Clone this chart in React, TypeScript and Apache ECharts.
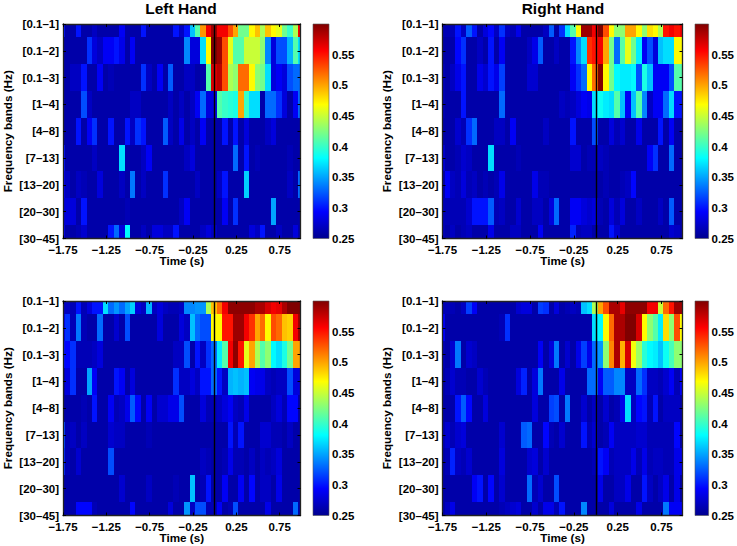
import React, { useEffect, useRef } from "react";
import * as echarts from "echarts";

const frequencyBands = ["[0.1–1]", "[0.1–2]", "[0.1–3]", "[1–4]", "[4–8]", "[7–13]", "[13–20]", "[20–30]", "[30–45]"];
const timeTicks = [-1.75, -1.25, -0.75, -0.25, 0.25, 0.75];
const panelTitles = ["Left Hand", "Right Hand", "", ""];

const leftTop = [
  [.30,.26,.26,.30,.26,.26,.27,.26,.26,.26,.26,.29,.26,.26,.26,.30,.26,.26,.26,.26,.26,.30,.27,.30,.36,.41,.505,.56,.59,.56,.56,.53,.50,.42,.42,.47,.49,.44,.49,.47,.46,.42,.40,.44,.56],
  [.26,.26,.26,.26,.26,.31,.28,.27,.29,.29,.30,.285,.26,.29,.26,.26,.26,.26,.26,.26,.26,.26,.26,.34,.28,.28,.37,.47,.60,.59,.53,.46,.41,.41,.45,.45,.45,.43,.34,.28,.32,.32,.355,.41,.37],
  [.26,.26,.27,.27,.30,.26,.26,.29,.26,.265,.26,.26,.26,.26,.26,.31,.27,.26,.29,.26,.325,.26,.26,.27,.27,.26,.26,.41,.57,.58,.53,.44,.43,.52,.52,.47,.43,.42,.37,.28,.29,.28,.32,.33,.33],
  [.26,.26,.26,.26,.32,.27,.26,.26,.26,.26,.26,.26,.26,.27,.27,.26,.26,.26,.26,.26,.27,.26,.27,.26,.27,.29,.33,.28,.28,.41,.40,.395,.39,.50,.40,.37,.37,.26,.33,.33,.31,.28,.26,.29,.33],
  [.26,.26,.26,.30,.26,.29,.31,.26,.26,.30,.26,.26,.30,.27,.31,.30,.26,.26,.26,.325,.27,.26,.285,.26,.27,.26,.29,.26,.26,.26,.30,.26,.30,.26,.28,.26,.26,.26,.27,.28,.26,.26,.26,.26,.26],
  [.30,.26,.26,.26,.26,.26,.27,.26,.26,.26,.26,.37,.26,.26,.26,.27,.29,.26,.26,.26,.26,.26,.26,.27,.28,.26,.26,.26,.26,.26,.26,.26,.33,.26,.30,.26,.265,.26,.26,.26,.26,.26,.265,.26,.26],
  [.29,.27,.26,.27,.265,.26,.26,.28,.26,.26,.26,.27,.26,.335,.26,.27,.26,.26,.26,.31,.26,.26,.26,.26,.26,.27,.26,.26,.26,.27,.30,.26,.26,.26,.365,.26,.26,.26,.26,.26,.26,.26,.27,.26,.33],
  [.28,.28,.28,.26,.30,.26,.26,.26,.26,.26,.26,.26,.265,.26,.26,.26,.26,.26,.26,.26,.26,.26,.27,.29,.26,.26,.26,.26,.26,.26,.29,.26,.31,.26,.26,.26,.26,.26,.26,.35,.26,.26,.26,.26,.26],
  [.29,.26,.26,.265,.275,.26,.26,.26,.26,.30,.33,.28,.38,.26,.26,.27,.26,.28,.28,.27,.27,.30,.26,.26,.26,.26,.27,.28,.27,.26,.26,.26,.26,.26,.26,.28,.27,.30,.26,.26,.27,.26,.26,.28,.26],
];

const rightTop = [
  [.265,.265,.265,.30,.27,.325,.30,.26,.28,.295,.27,.31,.27,.265,.285,.26,.26,.26,.26,.27,.325,.26,.31,.37,.41,.47,.59,.59,.56,.60,.53,.47,.43,.43,.50,.50,.47,.43,.48,.47,.44,.55,.56,.55,.56],
  [.26,.26,.26,.295,.31,.26,.26,.27,.26,.30,.26,.29,.26,.26,.26,.26,.27,.285,.325,.26,.26,.27,.26,.26,.30,.34,.37,.54,.55,.56,.50,.42,.33,.41,.46,.42,.375,.29,.32,.28,.36,.37,.37,.47,.47],
  [.265,.26,.27,.285,.30,.26,.26,.285,.275,.30,.285,.315,.26,.26,.26,.26,.275,.275,.26,.26,.26,.26,.26,.26,.29,.31,.33,.47,.52,.60,.47,.42,.38,.375,.375,.38,.32,.39,.36,.29,.29,.29,.32,.41,.41],
  [.265,.26,.26,.26,.30,.26,.26,.26,.26,.26,.26,.33,.26,.26,.26,.26,.26,.26,.26,.26,.26,.26,.27,.265,.27,.28,.29,.285,.37,.385,.375,.37,.41,.36,.29,.36,.41,.34,.27,.29,.29,.33,.37,.30,.30],
  [.26,.26,.26,.275,.265,.31,.33,.26,.26,.26,.27,.27,.26,.29,.26,.26,.26,.26,.26,.27,.26,.26,.26,.26,.30,.26,.26,.26,.32,.26,.26,.28,.265,.275,.26,.26,.285,.26,.26,.26,.30,.26,.29,.26,.26],
  [.275,.26,.26,.265,.275,.27,.26,.26,.26,.37,.26,.26,.26,.26,.265,.26,.26,.26,.26,.26,.26,.26,.26,.26,.275,.275,.26,.265,.265,.27,.265,.26,.26,.26,.26,.26,.26,.26,.29,.31,.26,.26,.33,.26,.26],
  [.26,.29,.27,.265,.28,.265,.27,.26,.265,.26,.265,.285,.26,.26,.26,.26,.26,.285,.265,.265,.26,.26,.26,.26,.26,.26,.26,.26,.26,.26,.265,.26,.26,.265,.27,.295,.26,.26,.26,.26,.26,.26,.26,.26,.26],
  [.265,.265,.265,.265,.265,.275,.30,.30,.30,.325,.265,.27,.26,.26,.275,.26,.26,.27,.27,.26,.28,.33,.26,.26,.29,.29,.28,.275,.28,.265,.26,.28,.265,.28,.26,.26,.27,.26,.26,.26,.27,.26,.325,.26,.26],
  [.265,.26,.27,.26,.265,.27,.26,.26,.26,.285,.26,.26,.26,.27,.27,.26,.26,.26,.29,.26,.26,.26,.26,.26,.305,.265,.27,.27,.26,.26,.26,.30,.275,.26,.26,.26,.26,.26,.26,.26,.26,.26,.275,.27,.26],
];

const leftBottom = [
  [.27,.27,.265,.30,.265,.28,.30,.30,.37,.33,.345,.33,.35,.365,.28,.27,.355,.27,.28,.27,.265,.265,.27,.34,.34,.345,.345,.44,.49,.52,.56,.595,.595,.595,.595,.595,.585,.585,.57,.56,.565,.585,.60,.60,.60],
  [.29,.31,.265,.335,.265,.26,.26,.33,.26,.26,.275,.26,.32,.26,.26,.26,.26,.26,.28,.26,.26,.26,.28,.27,.36,.33,.32,.32,.47,.47,.55,.55,.59,.59,.56,.54,.50,.52,.47,.53,.52,.49,.485,.56,.59],
  [.30,.295,.31,.265,.265,.265,.27,.28,.26,.26,.26,.26,.26,.26,.26,.26,.26,.26,.26,.26,.26,.27,.27,.32,.26,.30,.27,.31,.33,.375,.41,.56,.595,.55,.46,.50,.44,.41,.43,.38,.37,.39,.42,.50,.50],
  [.265,.28,.31,.26,.26,.35,.29,.26,.26,.26,.30,.29,.26,.28,.26,.26,.26,.26,.26,.26,.26,.31,.27,.27,.28,.27,.30,.30,.33,.30,.27,.355,.36,.355,.36,.29,.285,.285,.27,.265,.27,.27,.32,.28,.28],
  [.26,.26,.26,.26,.265,.26,.30,.26,.26,.29,.265,.27,.285,.325,.295,.26,.29,.26,.275,.275,.285,.285,.32,.26,.26,.26,.28,.265,.265,.27,.28,.29,.27,.265,.285,.26,.26,.26,.26,.27,.28,.265,.295,.295,.26],
  [.32,.265,.27,.26,.27,.26,.26,.26,.26,.275,.27,.27,.26,.26,.26,.26,.265,.26,.26,.26,.26,.26,.26,.26,.26,.26,.26,.26,.26,.26,.26,.30,.265,.30,.26,.26,.26,.275,.275,.265,.265,.26,.27,.26,.26],
  [.31,.265,.26,.275,.26,.26,.26,.26,.26,.32,.26,.26,.26,.26,.26,.26,.26,.26,.26,.26,.26,.26,.26,.26,.26,.26,.27,.265,.26,.26,.265,.285,.265,.265,.26,.27,.26,.27,.265,.27,.28,.26,.26,.26,.26],
  [.26,.26,.26,.26,.26,.26,.26,.26,.26,.26,.26,.275,.26,.26,.26,.26,.27,.26,.26,.26,.26,.265,.26,.26,.36,.26,.265,.30,.26,.26,.29,.26,.26,.29,.26,.295,.26,.27,.27,.26,.285,.26,.26,.26,.26],
  [.26,.26,.26,.295,.295,.295,.265,.26,.26,.26,.26,.26,.26,.295,.26,.26,.26,.26,.26,.26,.28,.26,.26,.345,.27,.32,.32,.265,.265,.29,.26,.265,.32,.26,.26,.26,.26,.26,.285,.26,.26,.26,.26,.33,.26],
];

const rightBottom = [
  [.265,.265,.265,.26,.27,.315,.29,.26,.26,.26,.26,.26,.26,.26,.275,.28,.28,.26,.315,.31,.26,.28,.26,.265,.27,.265,.36,.37,.44,.50,.53,.585,.585,.565,.595,.595,.595,.595,.56,.56,.45,.52,.55,.59,.59],
  [.29,.26,.26,.26,.26,.26,.26,.26,.26,.26,.26,.265,.31,.26,.26,.26,.26,.26,.26,.26,.26,.26,.26,.26,.26,.26,.26,.26,.37,.38,.47,.52,.585,.585,.60,.60,.57,.47,.43,.41,.375,.48,.43,.53,.47],
  [.265,.26,.275,.335,.26,.275,.27,.26,.26,.26,.26,.26,.26,.26,.26,.26,.26,.26,.29,.26,.28,.335,.26,.275,.26,.285,.315,.285,.33,.345,.43,.51,.585,.495,.57,.465,.435,.395,.38,.375,.36,.385,.405,.43,.43],
  [.26,.265,.275,.265,.265,.26,.26,.275,.265,.26,.26,.26,.26,.26,.28,.305,.26,.28,.335,.26,.26,.26,.285,.26,.26,.26,.26,.33,.33,.29,.325,.325,.34,.34,.27,.27,.33,.31,.27,.27,.265,.275,.29,.265,.29],
  [.26,.26,.26,.30,.325,.295,.26,.26,.28,.26,.26,.26,.26,.26,.26,.26,.26,.28,.26,.26,.315,.32,.26,.335,.26,.26,.275,.26,.27,.26,.275,.26,.265,.285,.37,.27,.295,.30,.265,.30,.26,.27,.27,.27,.26],
  [.265,.275,.265,.275,.28,.26,.26,.26,.26,.26,.26,.275,.26,.26,.26,.325,.33,.26,.26,.295,.265,.26,.275,.26,.26,.26,.30,.265,.275,.26,.265,.29,.27,.27,.27,.27,.275,.275,.265,.265,.265,.265,.265,.295,.26],
  [.26,.265,.305,.27,.265,.275,.26,.26,.26,.26,.26,.28,.26,.26,.26,.26,.275,.28,.26,.275,.26,.26,.26,.26,.26,.26,.26,.26,.265,.30,.29,.265,.27,.27,.27,.285,.265,.285,.265,.27,.27,.265,.265,.285,.285],
  [.26,.26,.26,.26,.26,.26,.29,.30,.26,.295,.26,.275,.26,.26,.26,.26,.33,.265,.275,.26,.26,.32,.26,.26,.26,.26,.26,.26,.26,.285,.26,.26,.27,.27,.285,.26,.26,.30,.27,.26,.27,.285,.26,.285,.26],
  [.26,.27,.285,.26,.26,.26,.26,.26,.26,.26,.26,.265,.27,.275,.28,.26,.26,.275,.26,.285,.285,.265,.30,.26,.26,.26,.34,.26,.26,.26,.26,.28,.26,.26,.26,.26,.285,.26,.26,.26,.26,.335,.29,.29,.29],
];

const panelValues = [leftTop, rightTop, leftBottom, rightBottom];

const V_MIN = 0.25;
const V_MAX = 0.6;
const T_MIN = -1.75;
const T_MAX = 0.99;
const CELL = 0.0625;
const FIRST_EDGE = T_MIN + 0.023 - CELL;

const FONT = "'Liberation Sans', Arial, Helvetica, sans-serif";

const jetStops: [number, [number, number, number]][] = [
  [0, [0, 0, 0.5625]],
  [0.125, [0, 0, 1]],
  [0.375, [0, 1, 1]],
  [0.625, [1, 1, 0]],
  [0.875, [1, 0, 0]],
  [1, [0.5, 0, 0]],
];

function jet(f: number): string {
  const t = Math.min(1, Math.max(0, f));
  for (let i = 1; i < jetStops.length; i++) {
    if (t <= jetStops[i][0]) {
      const [a, ca] = jetStops[i - 1];
      const [b, cb] = jetStops[i];
      const u = (t - a) / (b - a);
      const c = ca.map((v, j) => Math.round((v + (cb[j] - v) * u) * 255));
      return `rgb(${c[0]},${c[1]},${c[2]})`;
    }
  }
  return "rgb(128,0,0)";
}

function renderCell(params: any, api: any) {
  const t0 = api.value(0);
  const row = api.value(1);
  const v = api.value(2);
  const a = api.coord([t0, row - 0.5]);
  const b = api.coord([t0 + CELL, row + 0.5]);
  const cs = params.coordSys;
  const x0 = Math.round(Math.max(a[0], cs.x));
  const x1 = Math.round(Math.min(b[0], cs.x + cs.width));
  const y0 = Math.round(Math.max(a[1], cs.y));
  const y1 = Math.round(Math.min(b[1], cs.y + cs.height));
  if (x1 <= x0 || y1 <= y0) return null;
  return {
    type: "rect",
    shape: { x: x0, y: y0, width: x1 - x0, height: y1 - y0 },
    style: { fill: jet((v - V_MIN) / (V_MAX - V_MIN)) },
  };
}

function renderBar(params: any, api: any) {
  const a = api.coord([0, V_MAX]);
  const b = api.coord([1, V_MIN]);
  return {
    type: "rect",
    shape: { x: a[0], y: a[1], width: b[0] - a[0], height: b[1] - a[1] },
    style: {
      fill: new echarts.graphic.LinearGradient(
        0, 1, 0, 0,
        jetStops.map(([o, c]) => ({
          offset: o,
          color: `rgb(${c.map((x) => Math.round(x * 255)).join(",")})`,
        }))
      ),
      stroke: "#555",
      lineWidth: 0.6,
    },
  };
}

function buildOption() {
  const layout = [
    { left: 60.5, top: 24, barLeft: 313 },
    { left: 442.5, top: 24, barLeft: 695 },
    { left: 60.5, top: 301, barLeft: 313 },
    { left: 442.5, top: 301, barLeft: 695 },
  ];
  const W = 240;
  const H = 214.5;
  const grid: any[] = [];
  const xAxis: any[] = [];
  const yAxis: any[] = [];
  const series: any[] = [];
  const title: any[] = [];

  const tickStyle = { lineStyle: { color: "#000", width: 1 }, inside: true, length: 3 };
  const lineStyle = { show: true, onZero: false, lineStyle: { color: "#222", width: 1.3 } };
  const labelStyle = { color: "#000", fontFamily: FONT, fontWeight: "bold", fontSize: 11.5 };
  const nameStyle = { color: "#000", fontFamily: FONT, fontWeight: "bold", fontSize: 11.7 };

  layout.forEach((p, i) => {
    const g = grid.length;
    grid.push({ left: p.left, top: p.top, width: W, height: H });
    grid.push({ left: p.barLeft, top: p.top, width: 16, height: H });

    const xi = xAxis.length;
    const yi = yAxis.length;

    xAxis.push({
      type: "value", gridIndex: g, min: T_MIN, max: T_MAX, position: "bottom", z: 5,
      splitLine: { show: false }, axisLine: lineStyle,
      axisTick: { ...tickStyle, show: true, customValues: timeTicks },
      axisLabel: {
        ...labelStyle, margin: 5, customValues: timeTicks,
        formatter: (v: number) => String(v).replace("-", "−"),
      },
      name: "Time (s)", nameLocation: "middle", nameGap: 16, nameMoveOverlap: false, nameTextStyle: nameStyle,
    });
    xAxis.push({
      type: "value", gridIndex: g, min: T_MIN, max: T_MAX, position: "top", z: 5,
      splitLine: { show: false }, axisLine: lineStyle,
      axisTick: { ...tickStyle, show: true, customValues: timeTicks },
      axisLabel: { show: false },
    });
    xAxis.push({ type: "value", gridIndex: g + 1, min: 0, max: 1, show: false });

    yAxis.push({
      type: "value", gridIndex: g, min: 0, max: 8, interval: 1, inverse: true, position: "left", z: 5,
      splitLine: { show: false }, axisLine: lineStyle,
      axisTick: { ...tickStyle, show: true },
      axisLabel: { ...labelStyle, margin: 4, formatter: (v: number) => frequencyBands[v] ?? "" },
      name: "Frequency bands (Hz)", nameLocation: "middle", nameGap: 50, nameRotate: 90, nameTextStyle: nameStyle,
    });
    yAxis.push({
      type: "value", gridIndex: g, min: 0, max: 8, interval: 1, inverse: true, position: "right", z: 5,
      splitLine: { show: false }, axisLine: lineStyle,
      axisTick: { ...tickStyle, show: true },
      axisLabel: { show: false },
    });
    yAxis.push({
      type: "value", gridIndex: g + 1, min: V_MIN, max: V_MAX, interval: 0.05, position: "right",
      splitLine: { show: false }, axisLine: { show: false }, axisTick: { show: false },
      axisLabel: {
        ...labelStyle, margin: 3,
        formatter: (v: number) => (v >= V_MAX - 1e-6 ? "" : String(Math.round(v * 100) / 100)),
      },
    });

    const cells: number[][] = [];
    panelValues[i].forEach((rowValues, row) => {
      rowValues.forEach((v, k) => cells.push([FIRST_EDGE + CELL * k, row, v]));
    });

    series.push({
      type: "custom", coordinateSystem: "cartesian2d",
      xAxisIndex: xi, yAxisIndex: yi, data: cells, encode: { x: 0, y: 1 },
      renderItem: renderCell, silent: true, z: 2,
      markLine: {
        silent: true, symbol: "none", animation: false, label: { show: false },
        lineStyle: { color: "#000", width: 1.4, type: "solid" },
        data: [{ xAxis: 0 }],
      },
    });
    series.push({
      type: "custom", coordinateSystem: "cartesian2d",
      xAxisIndex: xi + 2, yAxisIndex: yi + 2, data: [[0, V_MIN]], encode: { x: 0, y: 1 },
      renderItem: renderBar, silent: true, z: 2,
    });

    if (panelTitles[i]) {
      title.push({
        text: panelTitles[i], left: p.left + W / 2 + 0.5, top: 0, padding: 0, textAlign: "center",
        textStyle: { fontFamily: FONT, fontWeight: "bold", fontSize: 15.5, color: "#000" },
      });
    }
  });

  return { animation: false, backgroundColor: "#fff", title, grid, xAxis, yAxis, series };
}

export default function App() {
  const ref = useRef<HTMLDivElement>(null);
  useEffect(() => {
    const chart = echarts.init(ref.current!, undefined, { renderer: "svg" });
    chart.setOption(buildOption() as any);
    return () => chart.dispose();
  }, []);
  return <div ref={ref} style={{ position: "absolute", left: 0, top: 0, width: 737, height: 546 }} />;
}
